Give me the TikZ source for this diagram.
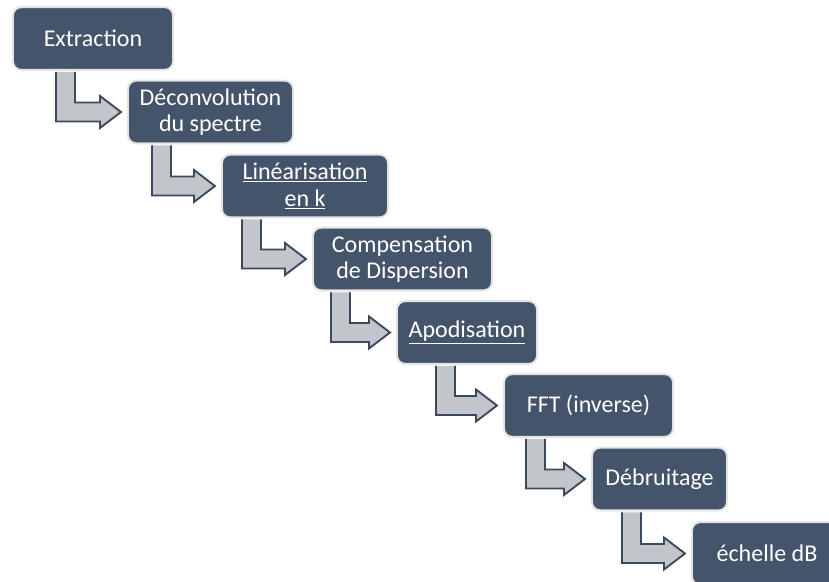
\documentclass[tikz,border=0pt]{standalone}
\usepackage{fontspec}
\setmainfont{Carlito}
\usepackage{xcolor}
\usetikzlibrary{calc}

\definecolor{stepfill}{HTML}{44546A}
\definecolor{stepline}{HTML}{E4E4E4}
\definecolor{arrfill}{HTML}{C2C5CA}
\definecolor{arrline}{HTML}{3A4A5E}

% bent arrow from the bottom of box #1 to the left side of box #2, stem at #3 px from the left
\newcommand{\steparrow}[3]{%
  \coordinate (tip) at ($(#2.west)+(-6,0)$);
  \coordinate (hb) at ($(tip)+(-21,0)$);
  \coordinate (sl) at ($(#1.south west)+(#3,1)$);
  \coordinate (sr) at ($(sl)+(19,0)$);
  \draw[arrowbox] (sl) -- ($(sl |- tip)+(0,9.5)$) -- ($(hb)+(0,9.5)$) -- ($(hb)+(0,16)$) -- (tip)
    -- ($(hb)+(0,-16)$) -- ($(hb)+(0,-9.5)$) -- ($(sr |- tip)+(0,-9.5)$) -- (sr);
}

\begin{document}
\begin{tikzpicture}[x=0.03cm, y=-0.03cm,
    stepbox/.style={draw=stepline, line width=1.7pt, fill=stepfill, rounded corners=7pt,
      text=white, align=center, minimum height=1.88cm, inner sep=0pt,
      font=\fontsize{20.5}{22.5}\selectfont},
    arrowbox/.style={draw=arrline, line width=1.6pt, fill=arrfill, line join=miter}]
                \useasboundingbox (0,0) rectangle (829,582);

                %% steps
                \node[stepbox, minimum width=4.8cm]  (extr) at (93,38.5)    {Extraction};
                \node[stepbox, minimum width=4.95cm] (deco) at (210.5,112)  {Déconvolution\\du spectre};
                \node[stepbox, minimum width=4.98cm] (line) at (305,186)    {\underline{Linéarisation}\\\underline{en k}};
                \node[stepbox, minimum width=5.37cm] (comp) at (402.5,259)  {Compensation\\de Dispersion};
                \node[stepbox, minimum width=4.2cm]  (apod) at (467,332.5)  {\underline{Apodisation}};
                \node[stepbox, minimum width=5.07cm] (fft)  at (588.5,405.5){FFT (inverse)};
                \node[stepbox, minimum width=4.05cm] (debr) at (659.5,479)  {Débruitage};
                \node[stepbox, minimum width=4.5cm]  (echl) at (767,553.5)  {échelle dB};

                %% arrows
                \steparrow{extr}{deco}{44}
                \steparrow{deco}{line}{25}
                \steparrow{line}{comp}{21}
                \steparrow{comp}{apod}{19}
                \steparrow{apod}{fft}{40}
                \steparrow{fft}{debr}{23}
                \steparrow{debr}{echl}{31}

            \end{tikzpicture}
\end{document}
